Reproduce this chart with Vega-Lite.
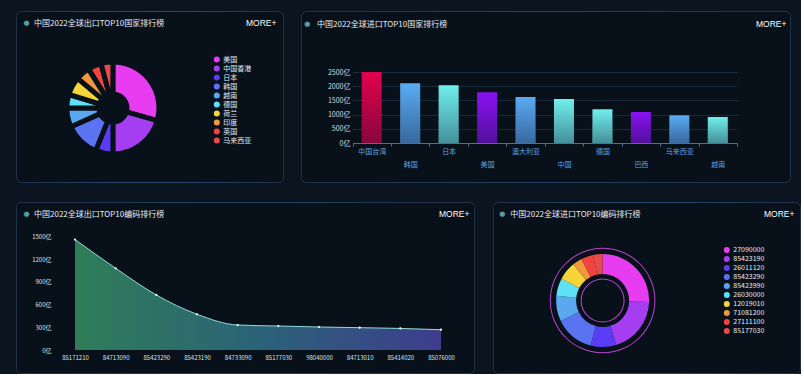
{
  "$schema": "https://vega.github.io/schema/vega-lite/v6.json",
  "background": "#0a1520",
  "padding": {"left": 15, "top": 10, "right": 0, "bottom": 0},
  "spacing": 18,
  "resolve": {"scale": {"color": "independent"}, "legend": {"color": "independent"}},
  "config": {
    "font": "Noto Sans CJK SC",
    "view": {"fill": "#08111a", "strokeWidth": 1, "cornerRadius": 5,
      "stroke": {"gradient": "radial", "x1": 0.5, "y1": 0, "r1": 0, "x2": 0.5, "y2": 0, "r2": 0.5,
        "stops": [{"offset": 0, "color": "#4a82c8"}, {"offset": 0.6, "color": "#2c5080"}, {"offset": 1, "color": "#1f3247"}]}},
    "title": {"font": "Noto Sans CJK SC", "fontSize": 8, "fontWeight": "normal", "color": "#e8eef5", "anchor": "start", "frame": "group", "baseline": "middle", "offset": 0},
    "axis": {"labelFont": "Noto Sans CJK SC", "titleFontWeight": "normal"}
  },
  "vconcat": [
    {
      "bounds": "flush",
      "spacing": 18,
      "resolve": {"scale": {"color": "independent"}, "legend": {"color": "independent"}},
      "hconcat": [
        {
          "width": 267,
          "height": 171,
          "title": {"text": "中国2022全球出口TOP10国家排行榜", "dx": 18, "dy": 21},
          "data": {"values": [
            {"country": "美国", "value": 106, "rank": 1},
            {"country": "中国香港", "value": 74, "rank": 2},
            {"country": "日本", "value": 22, "rank": 3},
            {"country": "韩国", "value": 44, "rank": 4},
            {"country": "越南", "value": 24, "rank": 5},
            {"country": "德国", "value": 17, "rank": 6},
            {"country": "荷兰", "value": 23, "rank": 7},
            {"country": "印度", "value": 18, "rank": 8},
            {"country": "英国", "value": 17, "rank": 9},
            {"country": "马来西亚", "value": 15, "rank": 10}
          ]},
          "mark": {"type": "arc", "innerRadius": 14, "outerRadius": 46, "stroke": "#08111a", "strokeWidth": 5},
          "encoding": {
            "theta": {"field": "value", "type": "quantitative"},
            "order": {"field": "rank", "type": "quantitative"},
            "color": {
              "field": "country", "type": "nominal",
              "scale": {
                "domain": ["美国", "中国香港", "日本", "韩国", "越南", "德国", "荷兰", "印度", "英国", "马来西亚"],
                "range": ["#e83cf0", "#a43ef0", "#5b3cf5", "#5a73f0", "#5aa9f0", "#5ee0f5", "#f7d438", "#f0983a", "#f0443c", "#e84a4a"]
              },
              "legend": {"orient": "none", "legendX": 197.3, "legendY": 45, "title": null, "symbolType": "circle", "symbolSize": 36, "symbolStrokeWidth": 0, "labelFontSize": 7, "labelColor": "#e6ecf2", "rowPadding": 1, "labelOffset": 3, "padding": 0}
            },
            "x": {"datum": 0.363, "type": "quantitative", "scale": {"domain": [0, 1]},
              "axis": {"orient": "top", "domain": false, "ticks": false, "labels": false, "grid": false, "title": "MORE+", "titleX": 260, "titleY": 11.5, "titleAlign": "right", "titleBaseline": "middle", "titleFontSize": 8.5, "titleColor": "#ffffff", "titleFont": "Liberation Sans"}},
            "y": {"datum": 0.433, "type": "quantitative", "scale": {"domain": [0, 1]},
              "axis": {"domain": false, "ticks": false, "labels": false, "grid": false, "title": "●", "titleX": 10, "titleY": 11.5, "titleAngle": 0, "titleAlign": "center", "titleBaseline": "middle", "titleFontSize": 7, "titleColor": "#5a9ca0", "titleFont": "DejaVu Sans"}}
          }
        },
        {
          "width": 489,
          "height": 171,
          "title": {"text": "中国2022全球进口TOP10国家排行榜", "dx": 16, "dy": 22},
          "data": {"values": [
            {"country": "中国台湾", "value": 2500},
            {"country": "韩国", "value": 2100},
            {"country": "日本", "value": 2030},
            {"country": "美国", "value": 1785},
            {"country": "澳大利亚", "value": 1620},
            {"country": "中国", "value": 1550},
            {"country": "德国", "value": 1187},
            {"country": "巴西", "value": 1092},
            {"country": "马来西亚", "value": 975},
            {"country": "越南", "value": 915}
          ]},
          "encoding": {
            "x": {"field": "country", "type": "nominal", "sort": null,
              "scale": {"range": [51.5, 436], "paddingInner": 0, "paddingOuter": 0},
              "axis": {"orient": "bottom", "offset": -39, "tickBand": "extent", "tickSize": 3, "tickColor": "#4d6f92", "domainColor": "#4d6f92", "labelAngle": 0, "labelFontSize": 7, "labelColor": "#5fa2e0",
                "labelPadding": {"condition": {"test": "indexof(['韩国','美国','中国','巴西','越南'], datum.value) >= 0", "value": 14}, "value": 1},
                "grid": false, "title": "MORE+", "titleX": 485, "titleY": -120, "titleAlign": "right", "titleBaseline": "middle", "titleFontSize": 8.5, "titleColor": "#ffffff", "titleFont": "Liberation Sans"}},
            "y": {"field": "value", "type": "quantitative",
              "scale": {"domain": [0, 2500], "range": [132, 61]},
              "axis": {"offset": -50, "values": [0, 500, 1000, 1500, 2000, 2500], "labelExpr": "datum.value + '亿'", "domain": false, "ticks": false, "tickSize": 0, "labelPadding": 1, "labelFontSize": 7, "labelColor": "#d5dce4", "grid": true, "gridColor": "#1b2a3b",
                "title": "●", "titleX": -44.3, "titleY": 12.5, "titleAngle": 0, "titleAlign": "center", "titleBaseline": "middle", "titleFontSize": 7, "titleColor": "#5a9ca0", "titleFont": "DejaVu Sans"}}
          },
          "layer": [
            {
              "mark": {"type": "bar", "width": {"band": 0.52}},
              "encoding": {
                "color": {"field": "country", "type": "nominal", "legend": null,
                  "scale": {
                    "domain": ["中国台湾", "韩国", "日本", "美国", "澳大利亚", "中国", "德国", "巴西", "马来西亚", "越南"],
                    "range": ["#e3024d", "#5aabf3", "#70efec", "#8912f0", "#5aabf3", "#70efec", "#70efec", "#8912f0", "#5aabf3", "#70efec"]
                  }}
              }
            },
            {
              "mark": {"type": "bar", "width": {"band": 0.52},
                "color": {"gradient": "linear", "x1": 0, "y1": 0, "x2": 0, "y2": 1, "stops": [{"offset": 0, "color": "rgba(8,12,40,0)"}, {"offset": 1, "color": "rgba(8,12,40,0.42)"}]}}
            }
          ]
        }
      ]
    },
    {
      "bounds": "flush",
      "spacing": 19,
      "resolve": {"scale": {"color": "independent"}, "legend": {"color": "independent"}},
      "hconcat": [
        {
          "width": 458,
          "height": 171,
          "title": {"text": "中国2022全球出口TOP10编码排行榜", "dx": 18, "dy": 21},
          "data": {"values": [
            {"code": "85171210", "value": 1460},
            {"code": "84713090", "value": 1080},
            {"code": "85423290", "value": 727},
            {"code": "85423190", "value": 472},
            {"code": "84733090", "value": 330},
            {"code": "85177030", "value": 317},
            {"code": "98040000", "value": 304},
            {"code": "84713010", "value": 295},
            {"code": "85414020", "value": 285},
            {"code": "85076000", "value": 268}
          ]},
          "encoding": {
            "x": {"field": "code", "type": "ordinal", "sort": null,
              "scale": {"type": "point", "range": [59, 425], "padding": 0},
              "axis": {"offset": -23, "domain": false, "ticks": false, "labelAngle": 0, "labelFontSize": 6, "labelColor": "#dde3ea", "labelPadding": 4.5, "grid": false,
                "title": "MORE+", "titleX": 453, "titleY": -137, "titleAlign": "right", "titleBaseline": "middle", "titleFontSize": 8.5, "titleColor": "#ffffff", "titleFont": "Liberation Sans"}},
            "y": {"field": "value", "type": "quantitative",
              "scale": {"domain": [0, 1500], "range": [148, 34.5]},
              "axis": {"offset": -37, "values": [0, 300, 600, 900, 1200, 1500], "labelExpr": "datum.value + '亿'", "domain": false, "ticks": false, "tickSize": 0, "labelPadding": 2, "labelFontSize": 6, "labelColor": "#dde3ea", "grid": false,
                "title": "●", "titleX": -27, "titleY": 11.5, "titleAngle": 0, "titleAlign": "center", "titleBaseline": "middle", "titleFontSize": 7, "titleColor": "#5a9ca0", "titleFont": "DejaVu Sans"}}
          },
          "layer": [
            {"mark": {"type": "area", "interpolate": "monotone",
              "color": {"gradient": "linear", "x1": 0, "y1": 0, "x2": 1, "y2": 0, "stops": [{"offset": 0, "color": "#2f7d58"}, {"offset": 0.5, "color": "#2b6377"}, {"offset": 1, "color": "#3e3d8d"}]}}},
            {"mark": {"type": "line", "interpolate": "monotone", "color": "#8edcd6", "strokeWidth": 1}},
            {"mark": {"type": "point", "filled": true, "color": "#ffffff", "size": 5, "opacity": 1}}
          ]
        },
        {
          "width": 307,
          "height": 171,
          "title": {"text": "中国2022全球进口TOP10编码排行榜", "dx": 17.3, "dy": 21},
          "data": {"values": [
            {"code": "27090000", "value": 92, "rank": 1},
            {"code": "85423190", "value": 71, "rank": 2},
            {"code": "26011120", "value": 32, "rank": 3},
            {"code": "85423290", "value": 49, "rank": 4},
            {"code": "85423990", "value": 32, "rank": 5},
            {"code": "26030000", "value": 22, "rank": 6},
            {"code": "12019010", "value": 23, "rank": 7},
            {"code": "71081200", "value": 12, "rank": 8},
            {"code": "27111100", "value": 15, "rank": 9},
            {"code": "85177030", "value": 12, "rank": 10}
          ]},
          "encoding": {
            "x": {"datum": 0.357, "type": "quantitative", "scale": {"domain": [0, 1]},
              "axis": {"orient": "top", "domain": false, "ticks": false, "labels": false, "grid": false, "title": "MORE+", "titleX": 301, "titleY": 11.5, "titleAlign": "right", "titleBaseline": "middle", "titleFontSize": 8.5, "titleColor": "#ffffff", "titleFont": "Liberation Sans"}},
            "y": {"datum": 0.424, "type": "quantitative", "scale": {"domain": [0, 1]},
              "axis": {"domain": false, "ticks": false, "labels": false, "grid": false, "title": "●", "titleX": 8.7, "titleY": 11.5, "titleAngle": 0, "titleAlign": "center", "titleBaseline": "middle", "titleFontSize": 7, "titleColor": "#5a9ca0", "titleFont": "DejaVu Sans"}}
          },
          "layer": [
            {
              "transform": [{"aggregate": [{"op": "count", "as": "n"}]}],
              "mark": {"type": "arc", "innerRadius": 51.8, "outerRadius": 52.8, "theta": 0, "theta2": 6.2832, "color": "#b944cc"}
            },
            {
              "mark": {"type": "arc", "innerRadius": 26.5, "outerRadius": 46.5},
              "encoding": {
                "theta": {"field": "value", "type": "quantitative"},
                "order": {"field": "rank", "type": "quantitative"},
                "color": {"field": "code", "type": "nominal",
                  "scale": {
                    "domain": ["27090000", "85423190", "26011120", "85423290", "85423990", "26030000", "12019010", "71081200", "27111100", "85177030"],
                    "range": ["#e83cf0", "#a43ef0", "#5b3cf5", "#5a73f0", "#5aa9f0", "#5ee0f5", "#f7d438", "#f0983a", "#f0443c", "#e84a4a"]
                  },
                  "legend": {"orient": "none", "legendX": 230.3, "legendY": 44.5, "title": null, "symbolType": "circle", "symbolSize": 36, "symbolStrokeWidth": 0, "labelFontSize": 7, "labelColor": "#e6ecf2", "rowPadding": 1, "labelOffset": 3, "padding": 0}}
              }
            },
            {
              "transform": [{"aggregate": [{"op": "count", "as": "n"}]}],
              "mark": {"type": "arc", "innerRadius": 21, "outerRadius": 22, "theta": 0, "theta2": 6.2832, "color": "#b944cc"}
            }
          ]
        }
      ]
    }
  ]
}
